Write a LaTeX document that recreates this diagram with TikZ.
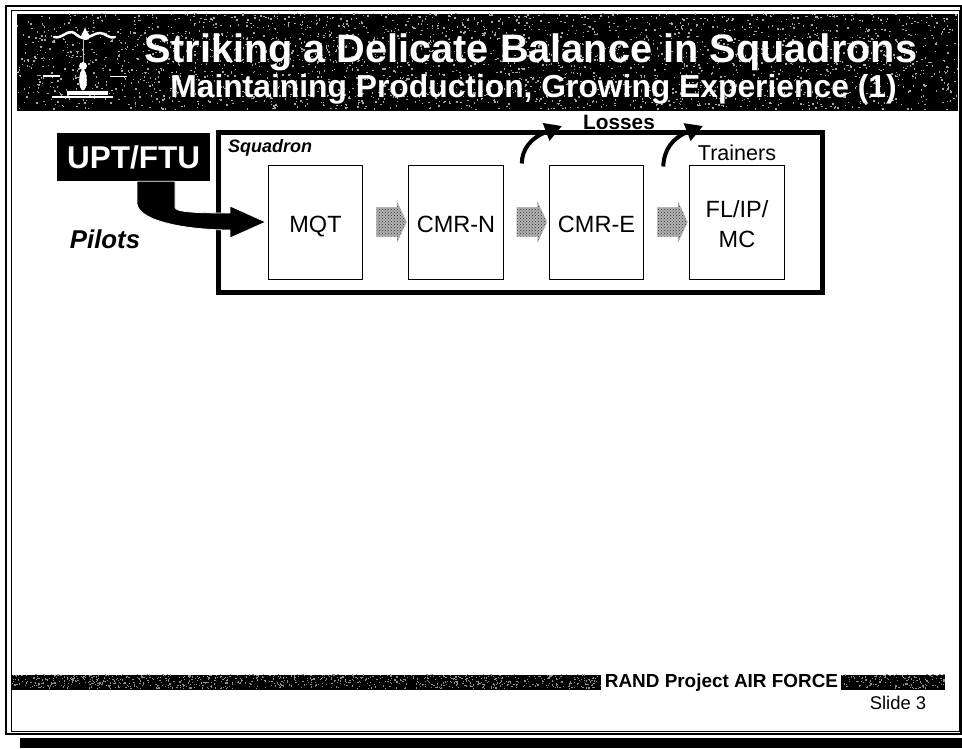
\documentclass[tikz,border=0pt]{standalone}
\usepackage{fontspec}
\setmainfont{Liberation Sans}
\usetikzlibrary{shapes.arrows}
\usetikzlibrary{patterns}
\usetikzlibrary{positioning}
\usetikzlibrary{arrows.meta}

\begin{document}
\begin{tikzpicture}[x=1pt,y=1pt,node distance=140.5pt,
	main node/.style={draw,line width=1pt,fill=white,minimum width=94.5pt,minimum height=114pt,align=center,font=\fontsize{23.5}{30}\selectfont},
	one line/.style={text height=21pt,text depth=0pt},
	speck bar/.style={fill=black,inner sep=0pt},
	flow arrow/.style={single arrow,preaction={fill=gray!60},pattern=crosshatch dots,pattern color=black!80,draw=gray!60,line width=.4pt,inner sep=0pt,minimum height=30pt,minimum width=40pt,single arrow head extend=5.5pt,single arrow tip angle=130},
	loss arrow/.style={-{Triangle[length=17pt,width=18pt]},line width=4pt}]
	
	\useasboundingbox (0,0) rectangle (962,-748);
	\fill[white] (0,0) rectangle (962,-748);
	\draw[line width=1.2pt] (6,-6) rectangle (961,-734);
	\draw[line width=.8pt] (11,-10) rectangle (959,-731);
	\fill[black] (20,-738) rectangle (962,-748);
	
	\node[speck bar,minimum width=941pt,minimum height=97pt] (banner) at (487.5,-62.5) {};
	\node[speck bar,minimum width=589pt,minimum height=15pt] (barleft) at (306.5,-682.5) {};
	\node[speck bar,minimum width=104pt,minimum height=15pt] (barright) at (893,-682.5) {};
	
	\pgfmathsetseed{7}
	\foreach \i in {1,...,2600}
		\fill[white!65!black] ({17+940*rnd},{-14-96*rnd}) rectangle +(1.4,1.4);
	\foreach \i in {1,...,900}
		\fill[white!55!black] ({12+588*rnd},{-675-14*rnd}) rectangle +(1.2,1.2);
	\foreach \i in {1,...,130}
		\fill[white!55!black] ({841+103*rnd},{-675-14*rnd}) rectangle +(1.2,1.2);
	
	\draw[white,line width=2.5pt,line cap=round] (54,-37) .. controls (62,-39) and (66,-31) .. (72,-32) .. controls (76,-33) and (78,-38) .. (84,-38) .. controls (90,-38) and (94,-33) .. (100,-33) .. controls (106,-33) and (108,-39) .. (115,-37);
	\fill[white] (85,-27) .. controls (86,-32) and (90,-34) .. (90,-37) .. controls (90,-41) and (81,-41) .. (81,-37) .. controls (81,-34) and (84,-32) .. (85,-27) -- cycle;
	\draw[white!75!black,line width=1pt] (83,-40) -- (83,-64);
	\fill[white] (83,-66) circle (4) (83,-80) ellipse (3.8 and 10.5);
	\fill[white] (67,-91) rectangle (108,-95);
	\fill[white] (52,-96) rectangle (113,-98);
	\fill[white] (43,-75) rectangle (60,-76.5);
	\fill[white] (110,-75.5) rectangle (127,-77);
	
	\node[white,anchor=base,font=\bfseries\fontsize{39.7}{44}\selectfont] (title) at (531,-62) {Striking a Delicate Balance in Squadrons};
	\node[white,anchor=base,font=\bfseries\fontsize{31.8}{36}\selectfont] (subtitle) at (533.5,-97) {Maintaining Production, Growing Experience (1)};
	
	\node[draw,line width=5pt,minimum width=604pt,minimum height=160pt] (squadron) at (520.5,-212.5) {};
	\node[anchor=base,font=\bfseries\itshape\fontsize{18}{21}\selectfont] (squadlabel) at (270,-152) {Squadron};
	
	\node[main node,one line] (mqt) at (315.5,-222) {MQT};
	\node[main node,one line] (cmrn) [right of=mqt] {CMR-N};
	\node[main node,one line] (cmre) [right of=cmrn] {CMR-E};
	\node[main node] (fl) [right of=cmre] {\rule{0pt}{22pt}FL/IP/\\MC};
	
	\node[flow arrow] (fa) [right of=mqt,node distance=72.5pt] {\rule{20pt}{0pt}\rule{0pt}{29pt}};
	\node[flow arrow] (fb) [right of=cmrn,node distance=72.5pt] {\rule{20pt}{0pt}\rule{0pt}{29pt}};
	\node[flow arrow] (fc) [right of=cmre,node distance=72.5pt] {\rule{20pt}{0pt}\rule{0pt}{29pt}};
	
	\node[fill=black,text=white,font=\bfseries\fontsize{31.5}{34}\selectfont,minimum width=153pt,minimum height=48pt,inner sep=0pt] (upt) at (133.5,-157) {UPT/FTU};
	\node[font=\bfseries\itshape\fontsize{25.8}{30}\selectfont] (pilots) at (105,-239) {Pilots};
	\node[font=\fontsize{21.5}{25}\selectfont] (trainers) [above=0pt of fl] {Trainers};
	\node[font=\bfseries\fontsize{20.8}{24}\selectfont] (losses) at (619,-122) {Losses};
	
	\fill[draw=white,line width=.8pt] ([xshift=3.5pt]upt.south) -- ([xshift=3.5pt,yshift=-23pt]upt.south) .. controls +(3,-18) and (190,-230) .. (230,-230) -- (230,-238) -- ([xshift=-2pt]mqt.west) -- (230,-206) -- (230,-213) .. controls (195,-213) and (175,-212) .. ([xshift=41.5pt,yshift=-26pt]upt.south) -- ([xshift=41.5pt]upt.south) -- cycle;
	
	\coordinate (lossa) at (562,-126);
	\coordinate (lossb) at (703,-126);
	\draw[loss arrow] ([xshift=18pt,yshift=1pt]cmrn.north east) .. controls (522,-150) and (530,-138) .. (lossa);
	\draw[loss arrow] ([xshift=19pt,yshift=-2pt]cmre.north east) .. controls (664,-150) and (672,-138) .. (lossb);
	
	\node[font=\bfseries\fontsize{18.9}{22}\selectfont] (rand) at (721.5,-682.5) {RAND Project AIR FORCE};
	\node[font=\fontsize{18.4}{22}\selectfont] (slide) at (898,-703) {Slide 3};
	\end{tikzpicture}
\end{document}
